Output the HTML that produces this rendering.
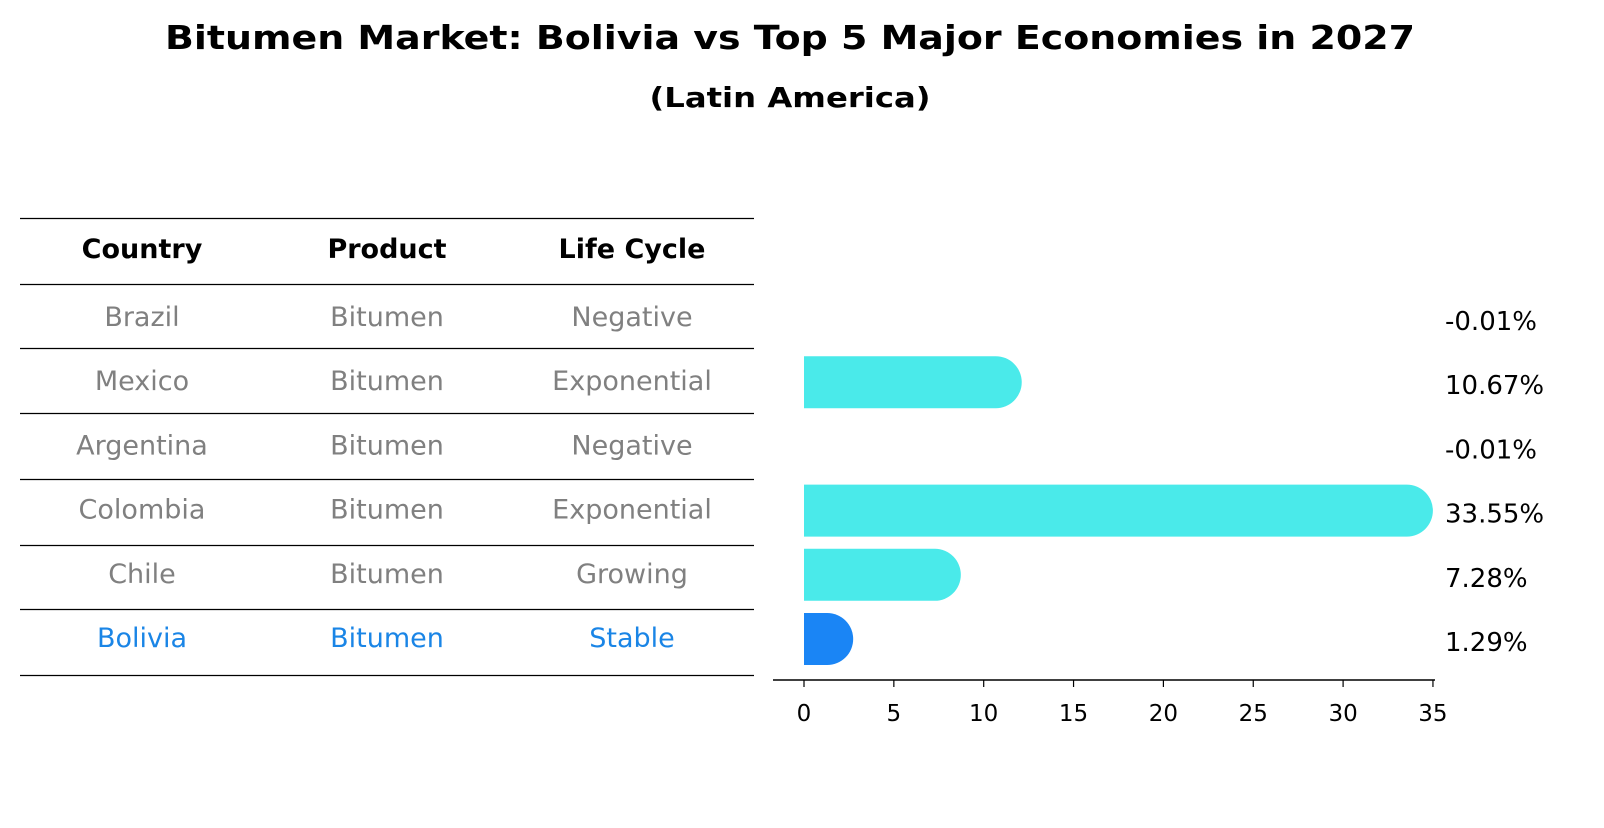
<!DOCTYPE html>
<html><head><meta charset="utf-8"><style>
body{margin:0;background:#fff;font-family:"Liberation Sans","DejaVu Sans",sans-serif;}
svg text{font-family:"DejaVu Sans","Liberation Sans",sans-serif;}
</style></head><body>
<svg id="c" width="1604" height="823" xmlns="http://www.w3.org/2000/svg">
<text x="790" y="49" text-anchor="middle" font-size="33" font-weight="bold" textLength="1250" lengthAdjust="spacingAndGlyphs">Bitumen Market: Bolivia vs Top 5 Major Economies in 2027</text>
<text x="790" y="107" text-anchor="middle" font-size="28" font-weight="bold" textLength="281" lengthAdjust="spacingAndGlyphs">(Latin America)</text>
<g id="tbl"></g>
<g id="bars"></g>
</svg>
<script>
const countries=["Brazil","Mexico","Argentina","Colombia","Chile","Bolivia"];
const products=["Bitumen","Bitumen","Bitumen","Bitumen","Bitumen","Bitumen"];
const lifeCycles=["Negative","Exponential","Negative","Exponential","Growing","Stable"];
const values=[-0.01,10.67,-0.01,33.55,7.28,1.29];
const valueLabels=["-0.01%","10.67%","-0.01%","33.55%","7.28%","1.29%"];
const xTicks=[0,5,10,15,20,25,30,35];
const NS="http://www.w3.org/2000/svg";
const svg=document.getElementById('c'),tbl=document.getElementById('tbl'),bars=document.getElementById('bars');
function mk(tag,attrs,parent){const e=document.createElementNS(NS,tag);for(const k in attrs)e.setAttribute(k,attrs[k]);parent.appendChild(e);return e;}
const xS=v=>804+v*17.97;
const rowY=i=>317+i*64.2;
const lines=[218.5,284.5,348.5,413.5,479.5,545.5,609.5,675.5];
lines.forEach((y,i)=>{const l=mk('line',{x1:20,x2:754,y1:y,y2:y,stroke:'#000','stroke-width':1.2},tbl);

});
const colX=[142,387,632];
["Country","Product","Life Cycle"].forEach((h,j)=>{const t=mk('text',{x:colX[j],y:258,'text-anchor':'middle','font-size':27,'font-weight':'bold'},tbl);t.textContent=h;

});
countries.forEach((c,i)=>{
 const col=c==="Bolivia"?"#1a85e6":"#808080";
 [c,products[i],lifeCycles[i]].forEach((v,j)=>{const t=mk('text',{x:colX[j],y:rowY(i)+9,'text-anchor':'middle','font-size':27,fill:col},tbl);t.textContent=v;
 
 });
});
const h=52,r=26;
values.forEach((v,i)=>{
 const cy=rowY(i)+1;
 if(v>0){
  const x0=xS(0),x1=xS(v);
  const col=countries[i]==="Bolivia"?"#1a85f5":"#4aeaea";
  const p=mk('path',{d:`M${x0},${cy-h/2} H${x1} A${r},${h/2} 0 0 1 ${x1},${cy+h/2} H${x0} Z`,fill:col},bars);
  
  
 }
 const t=mk('text',{x:1445,y:cy+12,'font-size':26},bars);t.textContent=valueLabels[i];
 
 
});
const ax=mk('line',{x1:773,x2:1435,y1:680,y2:680,stroke:'#000','stroke-width':1.5},bars);


xTicks.forEach(v=>{
 const tk=mk('line',{x1:xS(v),x2:xS(v),y1:680,y2:687,stroke:'#000','stroke-width':1.2},bars);
 
 
 const t=mk('text',{x:xS(v),y:721,'text-anchor':'middle','font-size':23},bars);t.textContent=v;
 
 
});
</script>
</body></html>
